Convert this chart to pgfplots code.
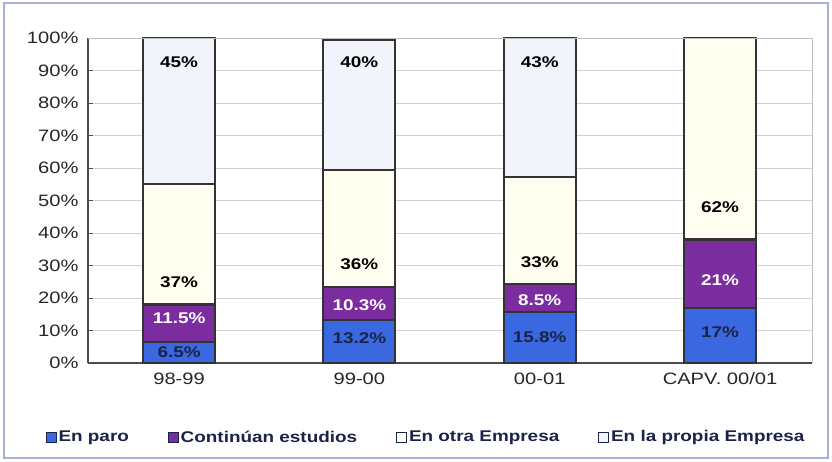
\documentclass[border=0pt]{standalone}
\usepackage{pgfplots}
\pgfplotsset{compat=1.18}
\usepackage{fontspec}
\setmainfont{Liberation Sans}[FakeStretch=1.22]
\definecolor{paro}{HTML}{3A68E0}
\definecolor{cont}{HTML}{7B2C9E}
\definecolor{otra}{HTML}{FFFEF0}
\definecolor{propia}{HTML}{F1F5FB}
\definecolor{navy}{HTML}{1A2348}
\definecolor{framec}{HTML}{A9B2D6}
\pgfplotsset{sqlegend/.style={legend image code/.code={\draw[##1, draw=navy, line width=0.8pt] (0pt,-5pt) rectangle (10pt,5pt);}}}
\begin{document}
\begin{tikzpicture}
\path[use as bounding box] (-88pt,-98pt) rectangle (744pt,363pt);
\begin{axis}[
  at={(0,0)}, anchor=south west,
  scale only axis, width=724pt, height=325pt,
  ybar stacked, bar width=72pt,
  xmin=-0.505, xmax=3.51, ymin=0, ymax=100,
  xtick={0,1,2,3}, xticklabels={98-99,99-00,00-01,CAPV.\ 00/01},
  ytick={0,10,...,100},
  yticklabel={\pgfmathprintnumber{\tick}\%},
  /pgf/number format/assume math mode=true,
  tick label style={font=\fontsize{16.5}{18}\selectfont, text=black!85},
  xticklabel style={yshift=-6pt},
  yticklabel style={xshift=-6pt},
  major tick length=5pt,
  xtick style={draw=none},
  ytick style={draw=black!70, line width=0.8pt},
  ymajorgrids, grid style={black!18, line width=0.6pt},
  axis x line*=bottom, axis y line*=left,
  axis line style={black!70, line width=1.2pt},
  legend style={at={(0.467,-0.228)}, anchor=center, draw=none, fill=none,
    font=\fontsize{15.5}{17}\selectfont\bfseries, text=navy,
    /tikz/every even column/.append style={column sep=37pt},
    /tikz/every odd column/.append style={column sep=0pt}},
  legend columns=4,
  sqlegend,
  every axis plot post/.append style={line width=2.2pt, draw=black!80},
]
\addplot[fill=paro] coordinates {(0,6.5) (1,13.2) (2,15.8) (3,17)};
\addplot[fill=cont] coordinates {(0,11.5) (1,10.3) (2,8.5) (3,21)};
\addplot[fill=otra] coordinates {(0,37) (1,36) (2,33) (3,62)};
\addplot[fill=propia] coordinates {(0,45) (1,40) (2,43) (3,0)};
\legend{En paro, Continúan estudios, En otra Empresa, En la propia Empresa}
\coordinate (tl) at (rel axis cs:0,1);
\coordinate (tr) at (rel axis cs:1,1);
\coordinate (br) at (rel axis cs:1,0);
\coordinate (a1) at (axis cs:0,92.5);
\coordinate (a2) at (axis cs:1,92.5);
\coordinate (a3) at (axis cs:2,92.5);
\coordinate (b1) at (axis cs:0,25);
\coordinate (b2) at (axis cs:1,30.5);
\coordinate (b3) at (axis cs:2,31);
\coordinate (b4) at (axis cs:3,48);
\coordinate (c1) at (axis cs:0,13.8);
\coordinate (c2) at (axis cs:1,17.8);
\coordinate (c3) at (axis cs:2,19.2);
\coordinate (c4) at (axis cs:3,25.5);
\coordinate (d1) at (axis cs:0,3.4);
\coordinate (d2) at (axis cs:1,7.5);
\coordinate (d3) at (axis cs:2,7.8);
\coordinate (d4) at (axis cs:3,9.5);
\end{axis}
\draw[black!25, line width=0.8pt] (tl) -- (tr) -- (br);
\begin{scope}[every node/.style={font=\fontsize{15.5}{17}\selectfont\bfseries}]
\node[text=black] at (a1) {45\%};
\node[text=black] at (a2) {40\%};
\node[text=black] at (a3) {43\%};
\node[text=black] at (b1) {37\%};
\node[text=black] at (b2) {36\%};
\node[text=black] at (b3) {33\%};
\node[text=black] at (b4) {62\%};
\node[text=white] at (c1) {11.5\%};
\node[text=white] at (c2) {10.3\%};
\node[text=white] at (c3) {8.5\%};
\node[text=white] at (c4) {21\%};
\node[text=navy] at (d1) {6.5\%};
\node[text=navy] at (d2) {13.2\%};
\node[text=navy] at (d3) {15.8\%};
\node[text=navy] at (d4) {17\%};
\end{scope}
\draw[framec, line width=2pt] (-84pt,-95pt) rectangle (740pt,360pt);
\end{tikzpicture}
\end{document}
